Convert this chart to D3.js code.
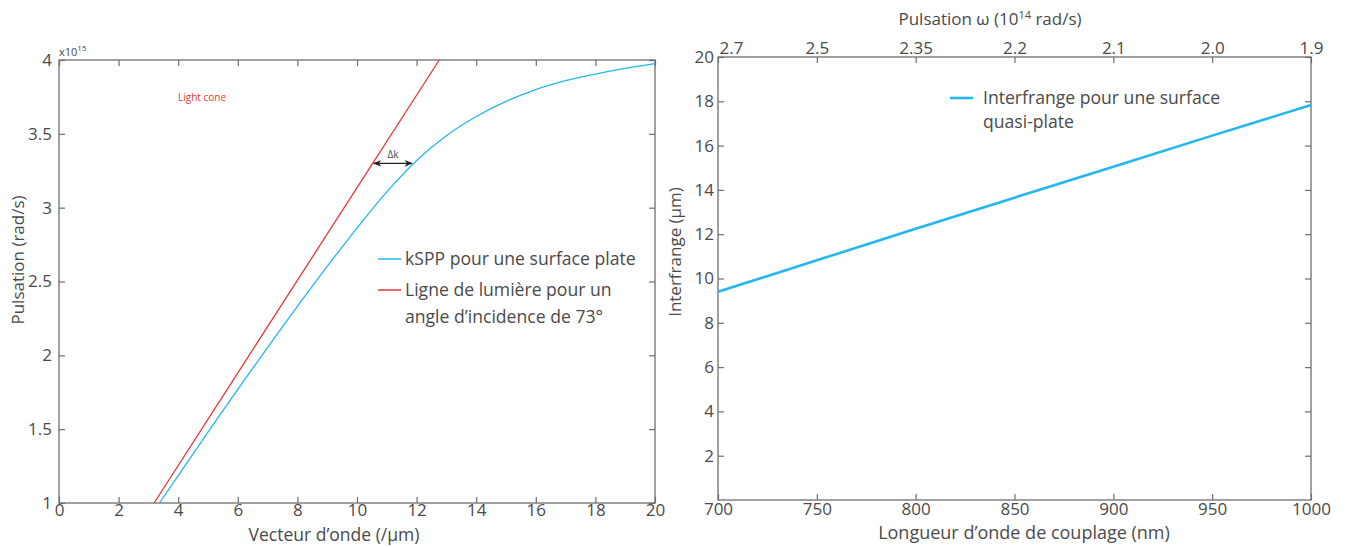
<!DOCTYPE html>
<html><head><meta charset="utf-8">
<script src="https://cdn.jsdelivr.net/npm/d3@7"></script>
<style>
body{margin:0;background:#fff}
text{font-family:"Open Sans",sans-serif;fill:#4a4a4a}
</style>
</head><body>
<svg id="c" width="1354" height="547"></svg>
<script>
// ---- Left chart data ----
const sppK = [3.37, 4, 6, 8, 9, 10, 11, 12, 13, 14, 15, 16, 17, 18, 19, 20];
const sppW = [1.0, 1.186, 1.769, 2.332, 2.602, 2.862, 3.107, 3.32, 3.487, 3.617, 3.72, 3.80, 3.86, 3.905, 3.943, 3.975];
const lightK = [3.19, 6.38, 9.57, 12.76];
const lightW = [1.0, 2.0, 3.0, 4.0];
const leftXTicks = [0, 2, 4, 6, 8, 10, 12, 14, 16, 18, 20];
const leftYTicks = [1, 1.5, 2, 2.5, 3, 3.5, 4];
const deltaK = [10.53, 11.88];
const deltaW = 3.3;
const leftLegend = ["kSPP pour une surface plate", "Ligne de lumière pour un", "angle d\u2019incidence de 73°"];

// ---- Right chart data ----
const lambda = [700, 750, 800, 850, 900, 950, 1000];
const interfrange = [9.4, 10.82, 12.25, 13.65, 15.05, 16.45, 17.83];
const rightYTicks = [2, 4, 6, 8, 10, 12, 14, 16, 18, 20];
const omegaLabels = ["2.7", "2.5", "2.35", "2.2", "2.1", "2.0", "1.9"];
const rightLegend = ["Interfrange pour une surface", "quasi-plate"];

const blue = "#22b7ee", red = "#e8373a", axisCol = "#6e6e6e";
const fs = 17;
const svg = d3.select("#c");

function styleAxis(g){
  g.select(".domain").remove();
  g.selectAll(".tick line").attr("stroke", axisCol).attr("stroke-width", 1.2);
  g.selectAll(".tick text").attr("fill", "#4a4a4a").style("font-size", fs + "px").style("font-family", '"Open Sans",sans-serif');
}

// ================= LEFT =================
{
  const X0 = 59, X1 = 655, Y0 = 60, Y1 = 503;
  const x = d3.scaleLinear().domain([0, 20]).range([X0, X1]);
  const y = d3.scaleLinear().domain([1, 4]).range([Y1, Y0]);

  svg.append("g").attr("transform", `translate(0,${Y1})`)
    .call(d3.axisBottom(x).tickValues(leftXTicks).tickSizeInner(-6).tickSizeOuter(0).tickPadding(1).tickFormat(d3.format("d")))
    .call(styleAxis);
  svg.append("g").attr("transform", `translate(0,${Y0})`)
    .call(d3.axisTop(x).tickValues(leftXTicks).tickSizeInner(-6).tickSizeOuter(0).tickFormat(""))
    .call(styleAxis);
  svg.append("g").attr("transform", `translate(${X0},0)`)
    .call(d3.axisLeft(y).tickValues(leftYTicks).tickSizeInner(-6).tickSizeOuter(0).tickPadding(7).tickFormat(d => d3.format("")(d)))
    .call(styleAxis);
  svg.append("g").attr("transform", `translate(${X1},0)`)
    .call(d3.axisRight(y).tickValues(leftYTicks).tickSizeInner(-6).tickSizeOuter(0).tickFormat(""))
    .call(styleAxis);
  svg.append("rect").attr("x", X0).attr("y", Y0).attr("width", X1 - X0).attr("height", Y1 - Y0)
    .attr("fill", "none").attr("stroke", axisCol).attr("stroke-width", 1.3);

  const line = d3.line().x(d => x(d[0])).y(d => y(d[1]));
  svg.append("path").datum(lightK.map((k, i) => [k, lightW[i]]))
    .attr("d", line).attr("fill", "none").attr("stroke", red).attr("stroke-width", 1.3);
  svg.append("path").datum(sppK.map((k, i) => [k, sppW[i]]))
    .attr("d", d3.line().curve(d3.curveMonotoneX).x(d => x(d[0])).y(d => y(d[1])))
    .attr("fill", "none").attr("stroke", blue).attr("stroke-width", 1.3);

  // exponent
  const ex = svg.append("text").attr("x", X0).attr("y", Y0 - 4).style("font-size", "11px");
  ex.append("tspan").text("x10");
  ex.append("tspan").attr("dy", -5).style("font-size", "8px").text("15");

  svg.append("text").attr("x", 178).attr("y", 101).style("font-size", "10px").style("fill", red).text("Light cone");

  // delta k arrow
  const defs = svg.append("defs");
  defs.append("marker").attr("id", "ah").attr("viewBox", "0 0 10 10").attr("refX", 9).attr("refY", 5)
    .attr("markerWidth", 7).attr("markerHeight", 7).attr("orient", "auto-start-reverse")
    .append("path").attr("d", "M0,1 L10,5 L0,9 L3,5 Z").attr("fill", "#222");
  svg.append("line").attr("x1", x(deltaK[0]) + 1).attr("x2", x(deltaK[1]) - 1)
    .attr("y1", y(deltaW)).attr("y2", y(deltaW)).attr("stroke", "#222").attr("stroke-width", 1.2)
    .attr("marker-start", "url(#ah)").attr("marker-end", "url(#ah)");
  svg.append("text").attr("x", (x(deltaK[0]) + x(deltaK[1])) / 2).attr("y", y(deltaW) - 5)
    .attr("text-anchor", "middle").style("font-size", "10px").text("\u0394k");

  // legend
  const lg = svg.append("g");
  lg.append("line").attr("x1", 378).attr("x2", 401).attr("y1", 259).attr("y2", 259).attr("stroke", blue).attr("stroke-width", 1.5);
  lg.append("line").attr("x1", 378).attr("x2", 401).attr("y1", 290).attr("y2", 290).attr("stroke", red).attr("stroke-width", 1.5);
  lg.append("text").attr("x", 405).attr("y", 265).style("font-size", "17.6px").text(leftLegend[0]);
  lg.append("text").attr("x", 405).attr("y", 296).style("font-size", "17.6px").text(leftLegend[1]);
  lg.append("text").attr("x", 405).attr("y", 323).style("font-size", "17.6px").text(leftLegend[2]);

  svg.append("text").attr("x", 334).attr("y", 541).attr("text-anchor", "middle").style("font-size", "17.5px").text("Vecteur d\u2019onde (/\u00b5m)");
  svg.append("text").attr("transform", `translate(24,260) rotate(-90)`).attr("text-anchor", "middle").style("font-size", "17px").text("Pulsation (rad/s)");
}

// ================= RIGHT =================
{
  const X0 = 718, X1 = 1311, Y0 = 57, Y1 = 500;
  const x = d3.scaleLinear().domain([700, 1000]).range([X0, X1]);
  const y = d3.scaleLinear().domain([0, 20]).range([Y1, Y0]);

  svg.append("g").attr("transform", `translate(0,${Y1})`)
    .call(d3.axisBottom(x).tickValues(lambda).tickSizeInner(-6).tickSizeOuter(0).tickPadding(3).tickFormat(d3.format("d")))
    .call(styleAxis);
  const top = svg.append("g").attr("transform", `translate(0,${Y0})`)
    .call(d3.axisTop(x).tickValues(lambda).tickSizeInner(-6).tickSizeOuter(0).tickPadding(3).tickFormat((d, i) => omegaLabels[i]))
    .call(styleAxis);
  top.selectAll(".tick text").filter((d, i) => i === 0).attr("text-anchor", "start").attr("x", 1);
  svg.append("g").attr("transform", `translate(${X0},0)`)
    .call(d3.axisLeft(y).tickValues(rightYTicks).tickSizeInner(-6).tickSizeOuter(0).tickPadding(4))
    .call(styleAxis);
  svg.append("g").attr("transform", `translate(${X1},0)`)
    .call(d3.axisRight(y).tickValues(rightYTicks).tickSizeInner(-6).tickSizeOuter(0).tickFormat(""))
    .call(styleAxis);
  svg.append("rect").attr("x", X0).attr("y", Y0).attr("width", X1 - X0).attr("height", Y1 - Y0)
    .attr("fill", "none").attr("stroke", axisCol).attr("stroke-width", 1.3);

  svg.append("path").datum(lambda.map((l, i) => [l, interfrange[i]]))
    .attr("d", d3.line().x(d => x(d[0])).y(d => y(d[1])))
    .attr("fill", "none").attr("stroke", blue).attr("stroke-width", 2.6);

  svg.append("line").attr("x1", 950).attr("x2", 973).attr("y1", 98).attr("y2", 98).attr("stroke", blue).attr("stroke-width", 2.6);
  svg.append("text").attr("x", 983).attr("y", 104).style("font-size", "17.6px").text(rightLegend[0]);
  svg.append("text").attr("x", 983).attr("y", 128).style("font-size", "17.6px").text(rightLegend[1]);

  const t = svg.append("text").attr("x", 990).attr("y", 25).attr("text-anchor", "middle").style("font-size", "17px");
  t.append("tspan").text("Pulsation \u03c9 (10");
  t.append("tspan").attr("dy", -6).style("font-size", "11px").text("14");
  t.append("tspan").attr("dy", 6).text(" rad/s)");
  svg.append("text").attr("x", 1024).attr("y", 539).attr("text-anchor", "middle").style("font-size", "18px").text("Longueur d\u2019onde de couplage (nm)");
  svg.append("text").attr("transform", `translate(681,252) rotate(-90)`).attr("text-anchor", "middle").style("font-size", "17px").text("Interfrange (\u00b5m)");
}
</script>
</body></html>
